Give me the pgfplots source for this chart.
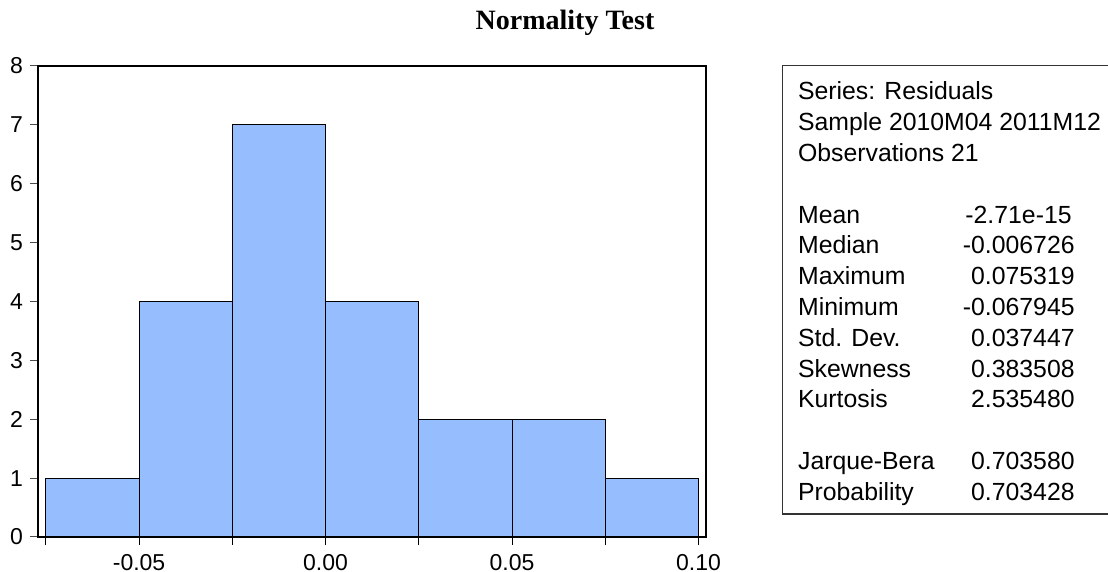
\documentclass[border=0pt]{standalone}
\usepackage{fontspec}
\setmainfont{Liberation Sans}
\newfontfamily\titlefont{Liberation Serif}
\usepackage{pgfplots}
\pgfplotsset{compat=1.18}
\definecolor{histblue}{RGB}{150,190,255}
\begin{document}
\begin{tikzpicture}
\useasboundingbox (0,0) rectangle (554pt,286pt);
\begin{axis}[
  at={(19pt,17.5pt)}, anchor=south west,
  scale only axis, width=334pt, height=235.6pt,
  xmin=-0.0771, xmax=0.102, ymin=0, ymax=8,
  xtick={-0.05,0,0.05,0.1},
  xticklabels={-0.05,0.00,0.05,0.10},
  minor xtick={-0.075,-0.025,0.025,0.075},
  ytick={0,1,2,3,4,5,6,7,8},
  tick align=outside, tick pos=left,
  major tick length=4pt, minor tick length=4pt,
  tick style={black, line width=0.5pt},
  ytick style={black!70},
  axis line style={line width=0.75pt},
  /pgf/number format/assume math mode=true,
  ticklabel style={font=\fontsize{11.5}{13}\selectfont},
  xticklabel style={yshift=-1pt},
  scaled x ticks=false,
]
\addplot[ybar interval, fill=histblue, draw=black, line width=0.5pt] coordinates {
(-0.075,1) (-0.05,4) (-0.025,7) (0,4) (0.025,2) (0.05,2) (0.075,1) (0.1,1)};
\end{axis}
\node[font=\titlefont\bfseries\fontsize{14}{16}\selectfont] at (282.5pt,274.5pt) {Normality Test};
\draw[line width=0.7pt, black!80] (560pt,29pt) -- (391.35pt,29pt) -- (391.35pt,253.15pt) -- (560pt,253.15pt);
\begin{scope}[every node/.style={font=\fontsize{12.4}{14}\selectfont, inner sep=0pt}]
\node[anchor=base west] at (398.85pt,236pt) {Series: Residuals};
\node[anchor=base west] at (398.85pt,220.6pt) {Sample 2010M04 2011M12};
\node[anchor=base west] at (398.85pt,205.2pt) {Observations 21};
\node[anchor=base west] at (398.85pt,174.4pt) {Mean};
\node[anchor=base west] at (398.85pt,159pt) {Median};
\node[anchor=base west] at (398.85pt,143.6pt) {Maximum};
\node[anchor=base west] at (398.85pt,128.2pt) {Minimum};
\node[anchor=base west] at (398.85pt,112.8pt) {Std. Dev.};
\node[anchor=base west] at (398.85pt,97.4pt) {Skewness};
\node[anchor=base west] at (398.85pt,82pt) {Kurtosis};
\node[anchor=base west] at (398.85pt,51.2pt) {Jarque-Bera};
\node[anchor=base west] at (398.85pt,35.8pt) {Probability};
\node[anchor=base east] at (536pt,174.4pt) {-2.71e-15};
\node[anchor=base east] at (537.5pt,159pt) {-0.006726};
\node[anchor=base east] at (537.5pt,143.6pt) {0.075319};
\node[anchor=base east] at (537.5pt,128.2pt) {-0.067945};
\node[anchor=base east] at (537.5pt,112.8pt) {0.037447};
\node[anchor=base east] at (537.5pt,97.4pt) {0.383508};
\node[anchor=base east] at (537.5pt,82pt) {2.535480};
\node[anchor=base east] at (537.5pt,51.2pt) {0.703580};
\node[anchor=base east] at (537.5pt,35.8pt) {0.703428};
\end{scope}
\end{tikzpicture}
\end{document}
